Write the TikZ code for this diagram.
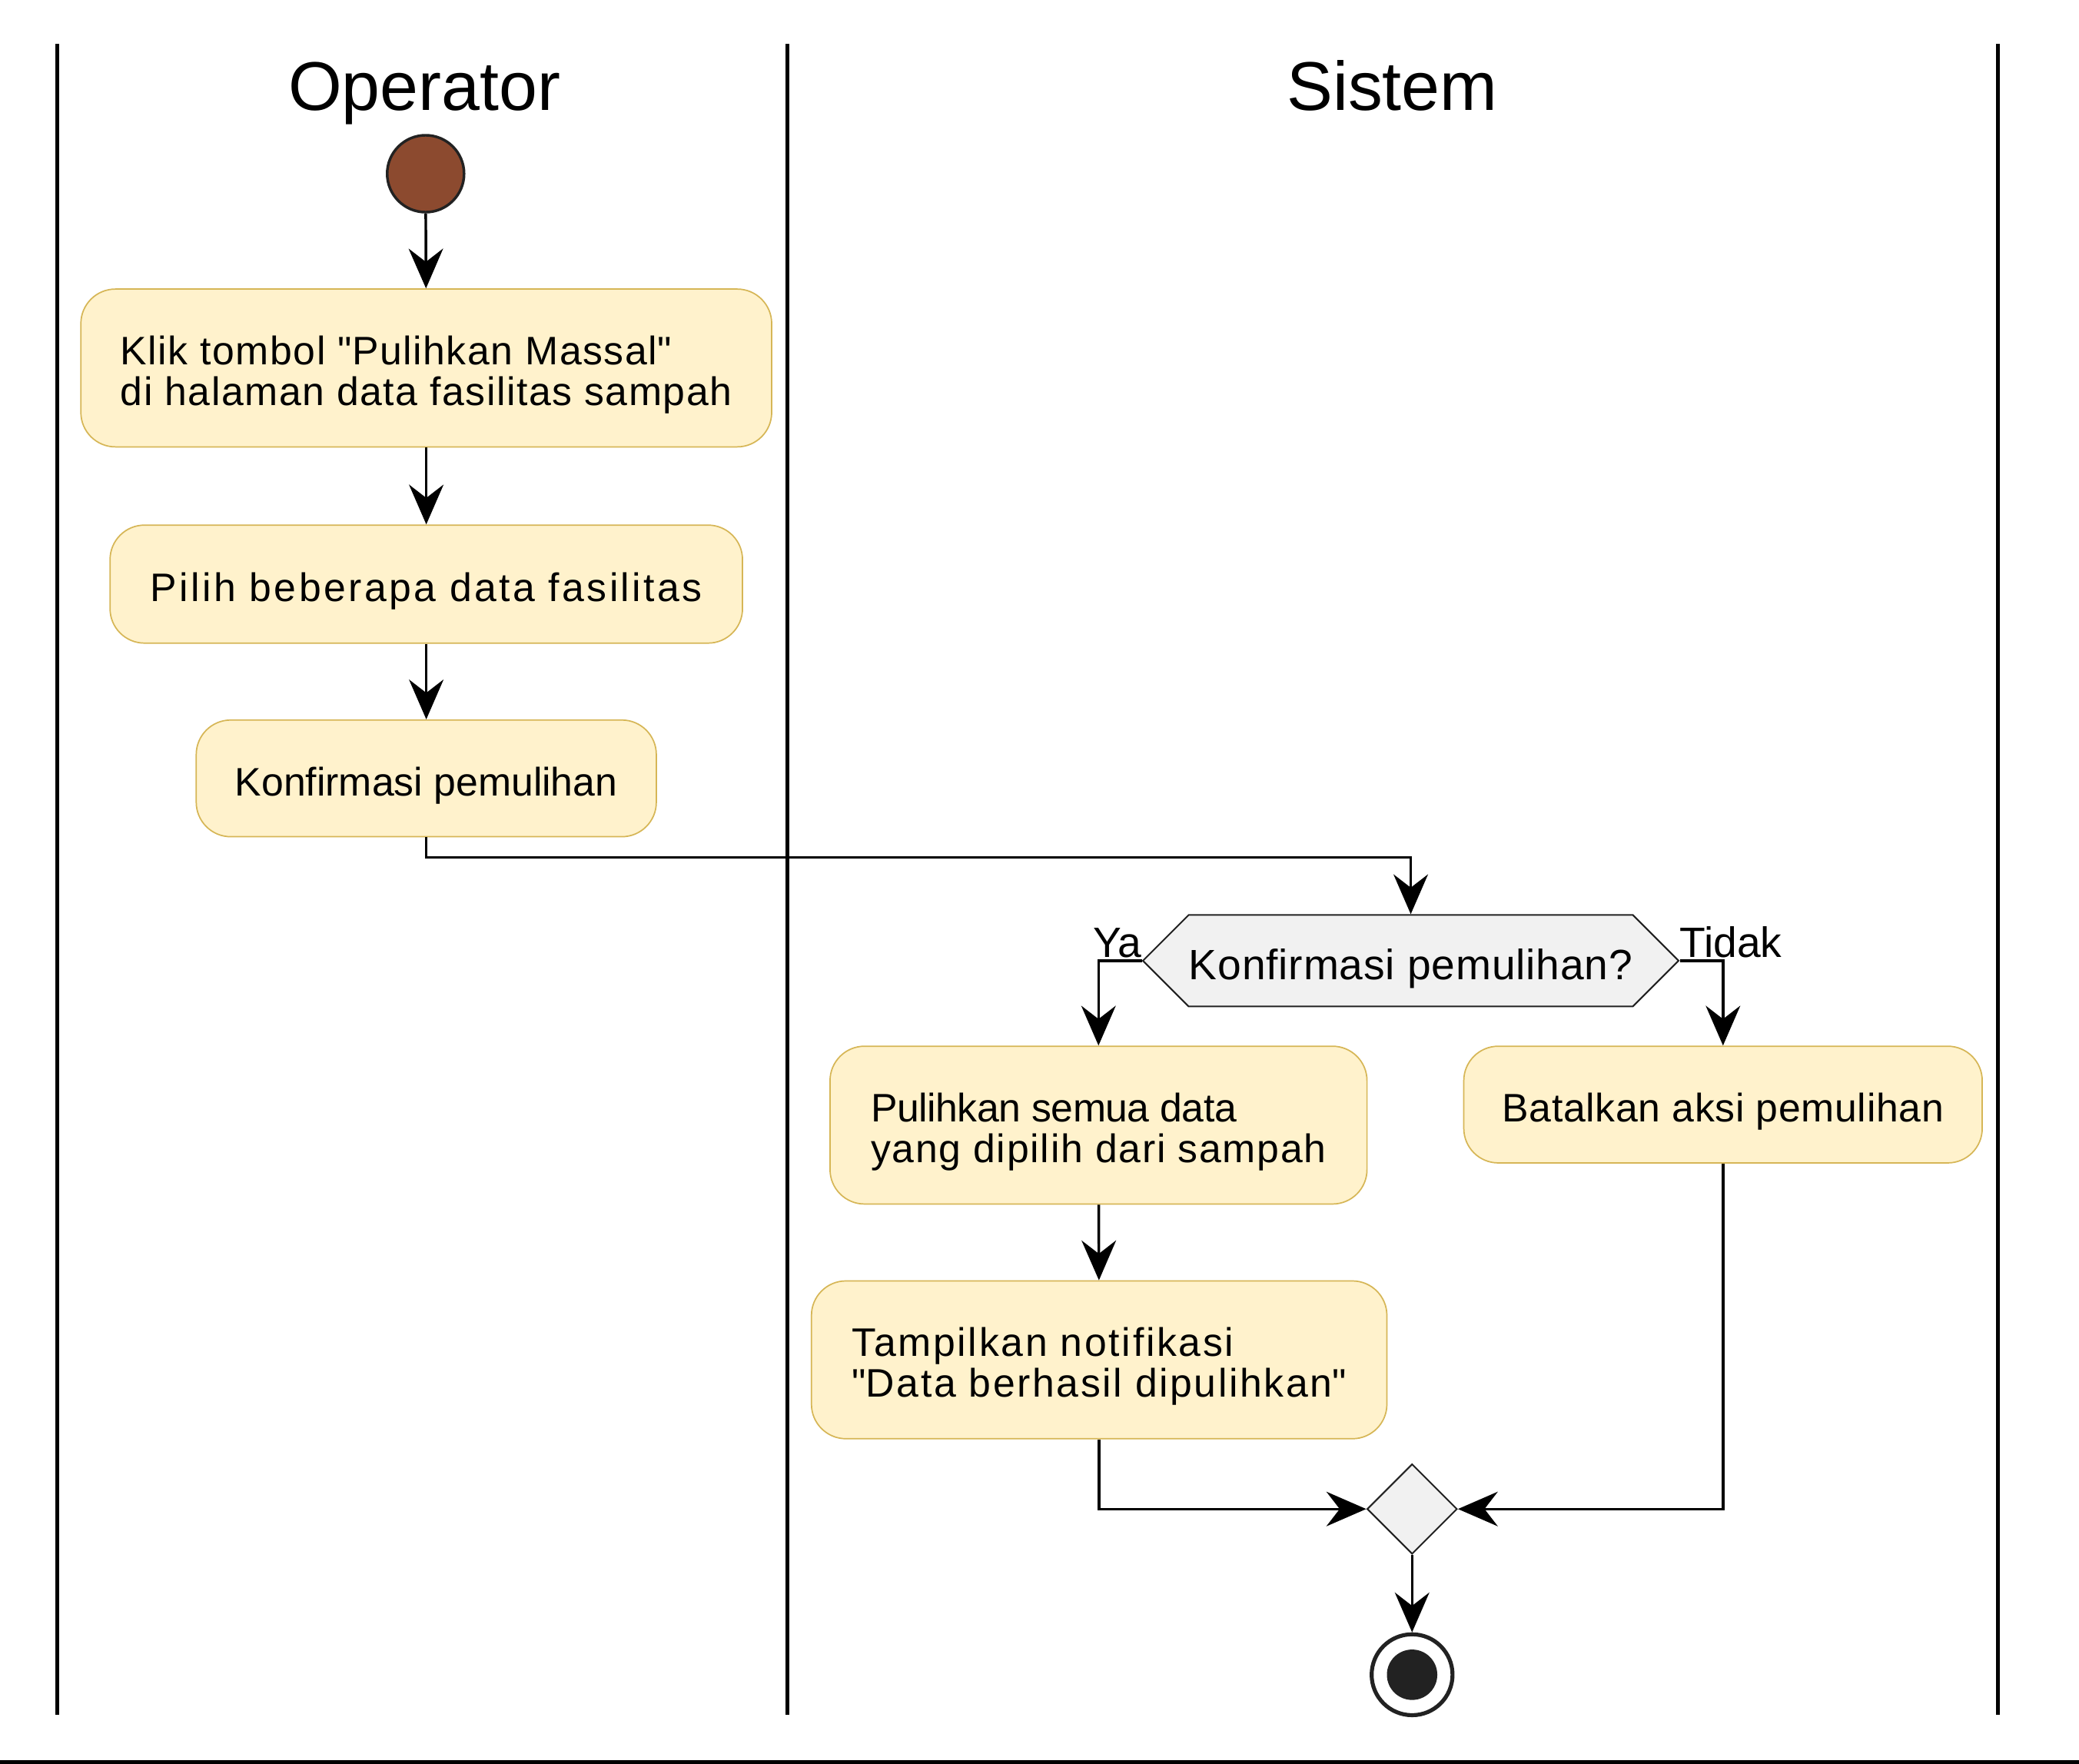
\documentclass[tikz,border=0pt]{standalone}
\usepackage{fontspec}
\setmainfont{Liberation Sans}
\usetikzlibrary{arrows.meta, shapes.geometric, shapes.symbols}
\definecolor{actfill}{HTML}{FFF2CC}
\definecolor{actline}{HTML}{D6B656}
\definecolor{decfill}{HTML}{F1F1F1}
\definecolor{dark}{HTML}{222222}
\definecolor{startfill}{HTML}{8C4A2F}
\newcommand{\spaced}[2]{{\addfontfeature{LetterSpace=#1}#2}}

\begin{document}
\begin{tikzpicture}[x=0.5pt, y=-0.5pt,
  act/.style={draw=actline, fill=actfill, line width=0.5pt, rounded corners=13pt, inner sep=2pt, text height=16.4pt, align=left, font=\fontsize{15}{15.5}\selectfont},
  acttwo/.style={act, text height=31.4pt, minimum height=59.5pt},
  dec/.style={draw=dark, fill=decfill, line width=0.6pt},
  flow/.style={-{Stealth[length=15pt, width=13pt, inset=5pt]}, line width=1pt},
  lane/.style={line width=1.5pt},
  lbl/.style={font=\fontsize{16}{16}\selectfont, inner sep=0pt, outer sep=0pt},
  lanetitle/.style={font=\fontsize{26}{26}\selectfont, anchor=base}]
\useasboundingbox (0,0) rectangle (1568,1330);
\foreach \x in {43,594,1507}
  \draw[lane] (\x,33) -- (\x,1293);
\draw[lane] (0,1329) -- (1568,1329);
\node[lanetitle] (op) at (320,83) {Operator};
\node[lanetitle] (sys) at (1050,83) {Sistem};

\node[circle, draw=dark, fill=startfill, line width=1pt, minimum size=29pt, inner sep=0pt] (start) at (321,131) {};
\node[acttwo, minimum width=260.5pt] (klik) at (321.5,277.5) {\spaced{3}{Klik tombol \textquotedbl Pulihkan Massal\textquotedbl}\\\spaced{3}{di halaman data fasilitas sampah}};
\node[act, minimum width=238.5pt, minimum height=44.5pt] (pilih) at (321.5,440.5) {\spaced{6.6}{Pilih beberapa data fasilitas}};
\node[act, minimum width=173.5pt, minimum height=44pt] (konf) at (321.5,587) {Konfirmasi pemulihan};
\node[dec, signal, signal to=east and west, signal pointer angle=90, minimum width=202pt, minimum height=34.5pt, inner sep=0pt, text height=17.5pt, font=\fontsize{16}{16}\selectfont] (cek) at (1064,724.5) {\spaced{1.5}{Konfirmasi pemulihan?}};
\node[acttwo, minimum width=202.5pt] (pulih) at (828.5,848.5) {\spaced{-0.9}{Pulihkan semua data}\\\spaced{3.3}{yang dipilih dari sampah}};
\node[act, minimum width=195.5pt, minimum height=44pt] (batal) at (1299.5,833) {\spaced{1.3}{Batalkan aksi pemulihan}};
\node[acttwo, minimum width=217pt] (notif) at (829,1025.5) {\spaced{5.2}{Tampilkan notifikasi}\\\spaced{5}{\textquotedbl Data berhasil dipulihkan\textquotedbl}};
\node[dec, diamond, aspect=1, minimum size=34pt, inner sep=0pt] (merge) at (1065,1138) {};
\node[circle, draw=dark, fill=white, line width=1.5pt, minimum size=30.5pt, inner sep=0pt,
  path picture={\fill[dark] (path picture bounding box.center) circle (9.5pt);}] (end) at (1065,1263) {};

\draw[flow] (start) -- (klik);
\draw[flow] (klik) -- (pilih);
\draw[flow] (pilih) -- (konf);
\draw[flow] (konf.south) -- ++(0,15) -| (cek.north);
\draw[flow] (cek.west) node[lbl, anchor=south east, yshift=1pt]{Ya} -| (pulih.north);
\draw[flow] (cek.east) node[lbl, anchor=south west, yshift=1pt]{Tidak} -| (batal.north);
\draw[flow] (pulih) -- (notif);
\draw[flow] (notif.south) |- (merge.west);
\draw[flow] (batal.south) |- (merge.east);
\draw[flow] (merge) -- (end);
\end{tikzpicture}
\end{document}
